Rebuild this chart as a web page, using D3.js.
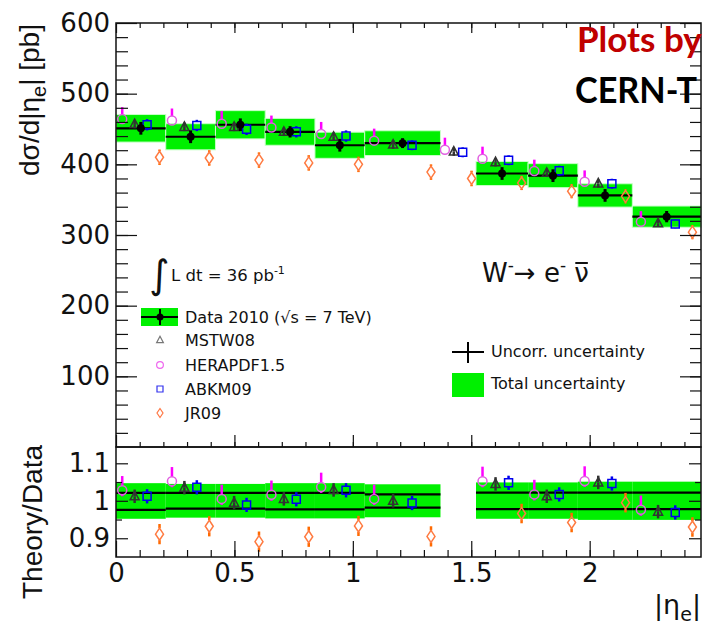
<!DOCTYPE html>
<html>
<head>
<meta charset="utf-8">
<script src="https://cdn.jsdelivr.net/npm/d3@7"></script>
<style>
body { margin: 0; background: #fff; }
svg { display: block; }
.tick text { font-family: 'DejaVu Sans', sans-serif; font-size: 26px; fill: #111; }
.tick line { stroke: #111; stroke-width: 1.2; }
.lab { font-family: 'DejaVu Sans', sans-serif; fill: #111; }
</style>
</head>
<body>
<svg id="chart" width="704" height="625"></svg>
<script>
// |eta_e| bins (crack 1.37-1.52 has no data point)
const binEdges = [0, 0.21, 0.42, 0.63, 0.84, 1.05, 1.37, 1.52, 1.74, 1.95, 2.18, 2.47];

// top panel, dsigma/d|eta| [pb]
const dataXsec = [451, 439, 456, 446, 427, 430, null, 387, 384, 356, 326];
const dataUncorr = [9, 9, 9, 8, 9, 7, null, 9, 9, 9, 8];
const dataTotal = [19.5, 18.5, 20, 19, 18.5, 17.5, null, 17, 17, 16.5, 15];

const mstw = [457, 453, 453, 446, 439, 428, 418, 403, 388, 373, 316.5];
const hera = [464, 462, 457.5, 452, 443, 433.5, 420.7, 408, 390.6, 375.4, 318.8];
const abkm = [456, 455, 449.5, 446, 440, 427, 417, 405.7, 391, 372.6, 315.6];
const jr09 = [410, 409, 406, 402, 400, 389, 380, 373.6, 362, 354.7, 304];

const mstwErr = [6, 6, 6, 6, 6, 6, 6, 6, 6, 6, 5];
const heraErrUp = [17, 17, 18, 17, 17, 17, 17, 17, 16, 16, 15];
const heraErrDn = [6, 6, 6, 6, 6, 6, 6, 6, 6, 6, 5];
const abkmErr = [8, 8, 8, 8, 8, 7, 7, 7, 7, 7, 6];
const jr09Err = [11, 11, 11, 11, 11, 11, 11, 10, 10, 10, 10];

// bottom panel, theory / data
const ratioMstw = [1.012, 1.035, 0.995, 1.005, 1.029, 1.0, null, 1.045, 1.012, 1.049, 0.971];
const ratioHera = [1.028, 1.052, 1.005, 1.016, 1.037, 1.005, null, 1.052, 1.017, 1.053, 0.976];
const ratioAbkm = [1.012, 1.036, 0.989, 1.004, 1.028, 0.994, null, 1.048, 1.017, 1.046, 0.969];
const ratioJr09 = [0.911, 0.932, 0.891, 0.904, 0.933, 0.905, null, 0.966, 0.942, 0.995, 0.93];

const ratioMstwErr = [0.018, 0.018, 0.018, 0.018, 0.018, 0.018, null, 0.018, 0.018, 0.018, 0.018];
const ratioHeraErrUp = [0.038, 0.038, 0.038, 0.038, 0.038, 0.038, null, 0.039, 0.039, 0.039, 0.038];
const ratioHeraErrDn = [0.016, 0.016, 0.016, 0.016, 0.016, 0.016, null, 0.016, 0.016, 0.016, 0.016];
const ratioAbkmErr = [0.019, 0.019, 0.019, 0.019, 0.019, 0.019, null, 0.019, 0.019, 0.019, 0.019];
const ratioJr09Err = [0.027, 0.027, 0.027, 0.027, 0.027, 0.027, null, 0.026, 0.026, 0.026, 0.026];

const ratioBandHi = [1.047, 1.045, 1.045, 1.047, 1.047, 1.044, null, 1.049, 1.049, 1.051, 1.051];
const ratioBandLo = [0.952, 0.955, 0.955, 0.953, 0.953, 0.956, null, 0.952, 0.952, 0.949, 0.949];
const ratioUncHi = [1.021, 1.021, 1.021, 1.021, 1.021, 1.017, null, 1.022, 1.022, 1.022, 1.022];
const ratioUncLo = [0.976, 0.979, 0.979, 0.977, 0.977, 0.982, null, 0.978, 0.978, 0.978, 0.978];

const yMajor = [100, 200, 300, 400, 500, 600];
const xMajor = [0, 0.5, 1, 1.5, 2];
const ratioMajor = [0.9, 1, 1.1];

const green = '#00f000';
const padLeft = 116, padRight = 701, padTop = 23, padMid = 447, padBottom = 557;

const x = d3.scaleLinear().domain([0, 2.47]).range([padLeft, padRight]);
const yTop = d3.scaleLinear().domain([0, 600]).range([padMid, padTop]);
const yRat = d3.scaleLinear().domain([0.85, 1.1435]).range([padBottom, padMid]);

const bins = d3.range(binEdges.length - 1).map(i => ({ i, lo: binEdges[i], hi: binEdges[i + 1] }));
const at = (b, f) => x(b.lo + f * (b.hi - b.lo));

const svg = d3.select('#chart');

// marker shapes
const shapes = {
    circle: { d: 'M-4.5,0a4.5,4.5 0 1,0 9,0a4.5,4.5 0 1,0 -9,0', gap: 4.5 },
    triangle: { d: 'M0,-5L4.5,3.5L-4.5,3.5Z', gap: 0 },
    square: { d: 'M-4,-4H4V4H-4Z', gap: 4 },
    diamond: { d: 'M0,-6L4,0L0,6L-4,0Z', gap: 6 }
};

function theory(g, y, vals, up, dn, frac, shape, stroke, barColor) {
    const pts = bins.filter(b => vals[b.i] != null);
    const s = shapes[shape];
    const grp = g.append('g');
    pts.forEach(b => {
        const cx = at(b, frac), cy = y(vals[b.i]);
        const yu = y(vals[b.i] + up[b.i]), yd = y(vals[b.i] - dn[b.i]);
        if (cy - s.gap > yu) {
            grp.append('line').attr('x1', cx).attr('x2', cx)
                .attr('y1', yu).attr('y2', cy - s.gap)
                .attr('stroke', barColor).attr('stroke-width', 2.5);
        }
        if (cy + s.gap < yd) {
            grp.append('line').attr('x1', cx).attr('x2', cx)
                .attr('y1', cy + s.gap).attr('y2', yd)
                .attr('stroke', barColor).attr('stroke-width', 2.5);
        }
        grp.append('path').attr('d', s.d)
            .attr('transform', `translate(${cx},${cy})`)
            .attr('fill', 'none').attr('stroke', stroke).attr('stroke-width', 1.5);
    });
}

// ---- top panel
const dataBins = bins.filter(b => dataXsec[b.i] != null);
svg.append('g').selectAll('rect')
    .data(dataBins)
    .enter().append('rect')
    .attr('x', _ => x(_.lo))
    .attr('width', _ => x(_.hi) - x(_.lo))
    .attr('y', _ => yTop(dataXsec[_.i] + dataTotal[_.i]))
    .attr('height', _ => yTop(dataXsec[_.i] - dataTotal[_.i]) - yTop(dataXsec[_.i] + dataTotal[_.i]))
    .attr('fill', green)
    .attr('stroke', '#c8ffc8').attr('stroke-width', 1);
svg.append('g').selectAll('line')
    .data(dataBins)
    .enter().append('line')
    .attr('x1', _ => x(_.lo)).attr('x2', _ => x(_.hi))
    .attr('y1', _ => yTop(dataXsec[_.i])).attr('y2', _ => yTop(dataXsec[_.i]))
    .attr('stroke', '#000').attr('stroke-width', 2.2);

const topG = svg.append('g');
theory(topG, yTop, hera, heraErrUp, heraErrDn, 0.125, 'circle', '#e060e0', '#ff00ff');
theory(topG, yTop, mstw, mstwErr, mstwErr, 0.375, 'triangle', '#333', '#333');
theory(topG, yTop, abkm, abkmErr, abkmErr, 0.625, 'square', '#0000ee', '#0000ee');
theory(topG, yTop, jr09, jr09Err, jr09Err, 0.875, 'diamond', '#ff7a40', '#ff6a00');

const dataG = svg.append('g').selectAll('g')
    .data(dataBins)
    .enter().append('g');
dataG.append('line')
    .attr('x1', _ => at(_, 0.5)).attr('x2', _ => at(_, 0.5))
    .attr('y1', _ => yTop(dataXsec[_.i] + dataUncorr[_.i]))
    .attr('y2', _ => yTop(dataXsec[_.i] - dataUncorr[_.i]))
    .attr('stroke', '#000').attr('stroke-width', 3);
dataG.append('circle')
    .attr('cx', _ => at(_, 0.5)).attr('cy', _ => yTop(dataXsec[_.i]))
    .attr('r', 4).attr('fill', '#000');

// ---- ratio panel
svg.append('g').selectAll('rect')
    .data(dataBins)
    .enter().append('rect')
    .attr('x', _ => x(_.lo))
    .attr('width', _ => x(_.hi) - x(_.lo))
    .attr('y', _ => yRat(ratioBandHi[_.i]))
    .attr('height', _ => yRat(ratioBandLo[_.i]) - yRat(ratioBandHi[_.i]))
    .attr('fill', green);
[ratioUncHi, ratioUncLo].forEach(arr => {
    svg.append('g').selectAll('line')
        .data(dataBins)
        .enter().append('line')
        .attr('x1', _ => x(_.lo)).attr('x2', _ => x(_.hi))
        .attr('y1', _ => yRat(arr[_.i])).attr('y2', _ => yRat(arr[_.i]))
        .attr('stroke', '#000').attr('stroke-width', 2.2);
});
const ratG = svg.append('g');
theory(ratG, yRat, ratioHera, ratioHeraErrUp, ratioHeraErrDn, 0.125, 'circle', '#e060e0', '#ff00ff');
theory(ratG, yRat, ratioMstw, ratioMstwErr, ratioMstwErr, 0.375, 'triangle', '#333', '#333');
theory(ratG, yRat, ratioAbkm, ratioAbkmErr, ratioAbkmErr, 0.625, 'square', '#0000ee', '#0000ee');
theory(ratG, yRat, ratioJr09, ratioJr09Err, ratioJr09Err, 0.875, 'diamond', '#ff7a40', '#ff6a00');

// ---- axes
const noDomain = g => g.select('.domain').remove();
const minorX = d3.range(0.1, 2.47, 0.1);

svg.append('g').attr('transform', `translate(${padLeft},0)`)
    .call(d3.axisLeft(yTop).tickValues(d3.range(20, 600, 20)).tickSize(-12).tickFormat(''))
    .call(noDomain);
svg.append('g').attr('transform', `translate(${padLeft},0)`)
    .call(d3.axisLeft(yTop).tickValues(yMajor).tickSize(-21).tickPadding(6).tickFormat(d3.format('d')))
    .call(noDomain);
svg.append('g').attr('transform', `translate(${padRight},0)`)
    .call(d3.axisRight(yTop).tickValues(d3.range(20, 600, 20)).tickSize(-11).tickFormat(''))
    .call(noDomain);
svg.append('g').attr('transform', `translate(${padRight},0)`)
    .call(d3.axisRight(yTop).tickValues(yMajor).tickSize(-21).tickFormat(''))
    .call(noDomain);

svg.append('g').attr('transform', `translate(0,${padTop})`)
    .call(d3.axisTop(x).tickValues(minorX).tickSize(-5).tickFormat(''))
    .call(noDomain);
svg.append('g').attr('transform', `translate(0,${padTop})`)
    .call(d3.axisTop(x).tickValues(xMajor).tickSize(-10).tickFormat(''))
    .call(noDomain);
svg.append('g').attr('transform', `translate(0,${padMid})`)
    .call(d3.axisBottom(x).tickValues(minorX).tickSize(-5).tickFormat(''))
    .call(noDomain);
svg.append('g').attr('transform', `translate(0,${padMid})`)
    .call(d3.axisBottom(x).tickValues(xMajor).tickSize(-12).tickFormat(''))
    .call(noDomain);

svg.append('g').attr('transform', `translate(0,${padBottom})`)
    .call(d3.axisBottom(x).tickValues(minorX).tickSize(-7).tickFormat(''))
    .call(noDomain);
svg.append('g').attr('transform', `translate(0,${padBottom})`)
    .call(d3.axisBottom(x).tickValues(xMajor).tickSize(-16).tickPadding(7).tickFormat(d => d))
    .call(noDomain);

svg.append('g').attr('transform', `translate(${padLeft},0)`)
    .call(d3.axisLeft(yRat).tickValues([0.95, 1.05]).tickSize(-6).tickFormat(''))
    .call(noDomain);
svg.append('g').attr('transform', `translate(${padLeft},0)`)
    .call(d3.axisLeft(yRat).tickValues(ratioMajor).tickSize(-12).tickPadding(6).tickFormat(d => d))
    .call(noDomain);
svg.append('g').attr('transform', `translate(${padRight},0)`)
    .call(d3.axisRight(yRat).tickValues([0.95, 1.05]).tickSize(-6).tickFormat(''))
    .call(noDomain);
svg.append('g').attr('transform', `translate(${padRight},0)`)
    .call(d3.axisRight(yRat).tickValues(ratioMajor).tickSize(-12).tickFormat(''))
    .call(noDomain);

// frames
svg.append('rect').attr('x', padLeft).attr('y', padTop)
    .attr('width', padRight - padLeft).attr('height', padMid - padTop)
    .attr('fill', 'none').attr('stroke', '#111').attr('stroke-width', 1.5);
svg.append('rect').attr('x', padLeft).attr('y', padMid)
    .attr('width', padRight - padLeft).attr('height', padBottom - padMid)
    .attr('fill', 'none').attr('stroke', '#111').attr('stroke-width', 1.5);

// axis titles
const yt = svg.append('text').attr('class', 'lab')
    .attr('transform', 'translate(39,100) rotate(-90)')
    .attr('text-anchor', 'middle')
    .style('font-family', "'Liberation Sans', Arial, sans-serif")
    .style('font-size', '28px');
yt.append('tspan').text('dσ/d|η');
yt.append('tspan').attr('dy', 7).style('font-size', '20px').text('e');
yt.append('tspan').attr('dy', -7).text('| [pb]');

svg.append('text').attr('class', 'lab')
    .attr('transform', 'translate(42,522) rotate(-90)')
    .attr('text-anchor', 'middle')
    .style('font-family', "'Liberation Sans', Arial, sans-serif")
    .style('font-size', '28px')
    .text('Theory/Data');

const xt = svg.append('text').attr('class', 'lab')
    .attr('x', 701).attr('y', 614)
    .attr('text-anchor', 'end')
    .style('font-size', '27px');
xt.append('tspan').text('|η');
xt.append('tspan').attr('dy', 7).style('font-size', '19px').text('e');
xt.append('tspan').attr('dy', -7).text('|');

// ---- annotations / legend
svg.append('text').attr('class', 'lab')
    .attr('x', 149).attr('y', 288)
    .style('font-size', '39px')
    .text('∫');
const lum = svg.append('text').attr('class', 'lab')
    .attr('x', 171).attr('y', 281)
    .style('font-size', '16.5px');
lum.append('tspan').text('L dt = 36 pb');
lum.append('tspan').attr('dy', -7).style('font-size', '11px').text('-1');

const proc = svg.append('text').attr('class', 'lab')
    .attr('x', 482).attr('y', 282)
    .style('font-size', '26px');
proc.append('tspan').text('W');
proc.append('tspan').attr('dy', -11).style('font-size', '17px').text('-');
proc.append('tspan').attr('dy', 11).text('→ e');
proc.append('tspan').attr('dy', -11).style('font-size', '17px').text('-');
proc.append('tspan').attr('dy', 11).text(' ν');
// bar over the nu
const nuIdx = proc.node().textContent.indexOf('ν');
const nuBox = proc.node().getExtentOfChar(nuIdx);
svg.append('line')
    .attr('x1', nuBox.x + 1).attr('x2', nuBox.x + nuBox.width - 1)
    .attr('y1', 263).attr('y2', 263)
    .attr('stroke', '#111').attr('stroke-width', 2);

const legendItems = ['Data 2010 (√s = 7 TeV)', 'MSTW08', 'HERAPDF1.5', 'ABKM09', 'JR09'];
const legendY = [317, 340, 365, 389, 413];
const legendShape = [null, 'triangle', 'circle', 'square', 'diamond'];
const legendColor = [null, '#777', '#ee66ee', '#3333ee', '#ff7744'];

const leg = svg.append('g');
leg.append('rect').attr('x', 141).attr('y', 308).attr('width', 37).attr('height', 18).attr('fill', green);
leg.append('line').attr('x1', 141).attr('x2', 178).attr('y1', 317).attr('y2', 317).attr('stroke', '#000').attr('stroke-width', 2);
leg.append('line').attr('x1', 160).attr('x2', 160).attr('y1', 309).attr('y2', 325).attr('stroke', '#000').attr('stroke-width', 2);
leg.append('circle').attr('cx', 160).attr('cy', 317).attr('r', 3.5).attr('fill', '#000');
legendItems.forEach((t, i) => {
    if (legendShape[i]) {
        leg.append('path').attr('d', shapes[legendShape[i]].d)
            .attr('transform', `translate(160,${legendY[i]}) scale(0.75)`)
            .attr('fill', 'none').attr('stroke', legendColor[i]).attr('stroke-width', 1.6);
    }
    leg.append('text').attr('class', 'lab')
        .attr('x', 185).attr('y', legendY[i] + 6)
        .style('font-size', '16px')
        .text(t);
});

leg.append('line').attr('x1', 452).attr('x2', 484).attr('y1', 352).attr('y2', 352).attr('stroke', '#000').attr('stroke-width', 2);
leg.append('line').attr('x1', 468).attr('x2', 468).attr('y1', 342).attr('y2', 363).attr('stroke', '#000').attr('stroke-width', 2);
leg.append('text').attr('class', 'lab').attr('x', 491).attr('y', 357).style('font-size', '16px').text('Uncorr. uncertainty');
leg.append('rect').attr('x', 452).attr('y', 373).attr('width', 32).attr('height', 24).attr('fill', green);
leg.append('text').attr('class', 'lab').attr('x', 491).attr('y', 389).style('font-size', '16px').text('Total uncertainty');

// overlaid credit text (cut by the page edge in the original)
svg.append('text').attr('x', 577).attr('y', 52)
    .style('font-family', 'Lato, sans-serif').style('font-weight', 'bold')
    .style('font-size', '35px').attr('fill', '#c00000')
    .text('Plots by');
svg.append('text').attr('x', 575).attr('y', 103)
    .attr('textLength', 122).attr('lengthAdjust', 'spacingAndGlyphs')
    .style('font-family', 'Lato, sans-serif').style('font-weight', 'bold')
    .style('font-size', '36px').attr('fill', '#000')
    .text('CERN-T');
</script>
</body>
</html>
